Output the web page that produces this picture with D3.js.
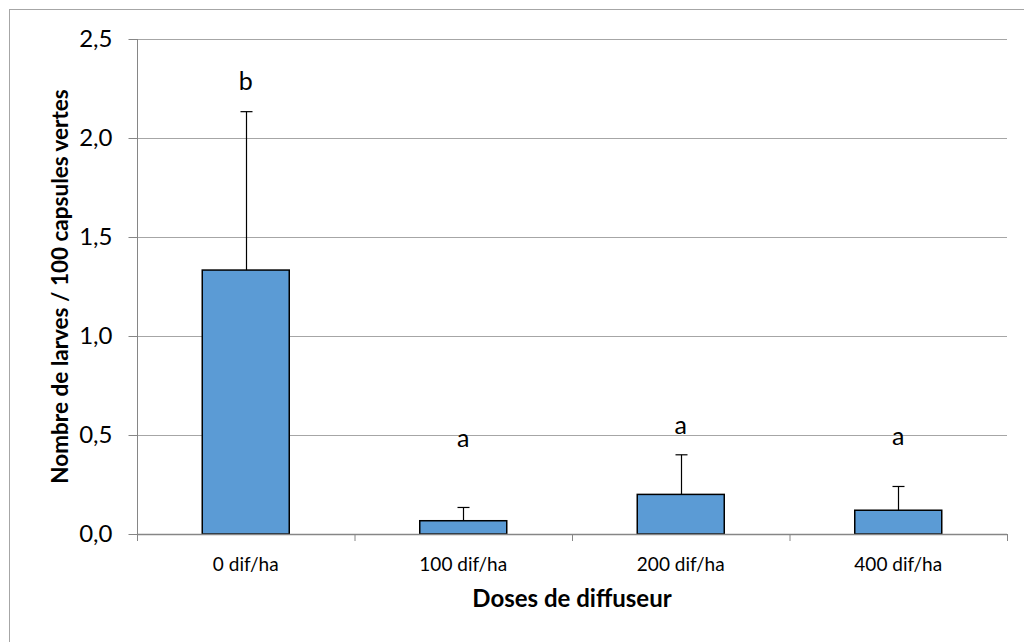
<!DOCTYPE html>
<html><head><meta charset="utf-8">
<script src="https://cdn.jsdelivr.net/npm/d3@7"></script>
<style>body{margin:0;background:#fff}svg{display:block}text{font-family:Lato,"Open Sans",sans-serif}</style>
</head><body><svg id="c" width="1024" height="642"></svg>
<script>
const categories = ["0 dif/ha", "100 dif/ha", "200 dif/ha", "400 dif/ha"];
const means = [1.333, 0.067, 0.2, 0.12];
const errors = [0.8, 0.067, 0.2, 0.12];
const letters = ["b", "a", "a", "a"];
const letterPos = [2.24, 0.44, 0.505, 0.45];
const yTicks = [0, 0.5, 1.0, 1.5, 2.0, 2.5];

const svg = d3.select("#c");
const L = 137, R = 1007, T = 39, B = 534;
svg.append("rect").attr("x", 9.5).attr("y", 9.5).attr("width", 1040).attr("height", 660)
  .attr("fill", "#fff").attr("stroke", "#A6A6A6").attr("stroke-width", 1);

const x = d3.scaleBand().domain(categories).range([L, R]).paddingInner(0.6).paddingOuter(0.3);
const xb = d3.scaleBand().domain(categories).range([L, R]);
const y = d3.scaleLinear().domain([0, 2.5]).range([B, T]);

// gridlines
svg.append("g").selectAll("line").data(yTicks.filter(d => d > 0)).join("line")
  .attr("x1", L).attr("x2", R).attr("y1", d => Math.round(y(d)) + 0.5).attr("y2", d => Math.round(y(d)) + 0.5)
  .attr("stroke", "#A6A6A6").attr("stroke-width", 1);

// y axis
const fmt = d => d3.format(".1f")(d).replace(".", ",");
const ya = svg.append("g").attr("transform", `translate(${L + 0.5},0)`)
  .call(d3.axisLeft(y).tickValues(yTicks).tickFormat(fmt).tickSize(9).tickPadding(16));
ya.select(".domain").attr("stroke", "#868686").attr("d", `M0,${T}V${B}`);
ya.selectAll(".tick line").attr("stroke", "#868686");
ya.selectAll(".tick text").attr("font-size", 24).attr("fill", "#000").attr("font-family", "Lato");

// bars
svg.append("g").selectAll("rect").data(means).join("rect")
  .attr("x", (d, i) => x(categories[i])).attr("width", x.bandwidth())
  .attr("y", d => y(d)).attr("height", d => B - y(d))
  .attr("fill", "#5B9BD5").attr("stroke", "#000").attr("stroke-width", 1.5);

// x axis
const xa = svg.append("g").attr("transform", `translate(0,${B + 0.5})`)
  .call(d3.axisBottom(xb).tickSize(0).tickPadding(20));
xa.select(".domain").attr("stroke", "#868686").attr("stroke-width", 1.5).attr("d", `M${L},0H${R}`);
xa.selectAll(".tick text").attr("font-size", 19).attr("fill", "#000").attr("dy", null).attr("y", 36);
svg.append("g").selectAll("line").data(d3.range(categories.length + 1)).join("line")
  .attr("x1", i => L + i * xb.bandwidth() + 0.5).attr("x2", i => L + i * xb.bandwidth() + 0.5)
  .attr("y1", B).attr("y2", B + 7).attr("stroke", "#868686");

// error bars
const eg = svg.append("g").attr("stroke", "#000").attr("stroke-width", 1.2);
means.forEach((m, i) => {
  const cx = Math.round(x(categories[i]) + x.bandwidth() / 2) + 0.5;
  eg.append("line").attr("x1", cx).attr("x2", cx).attr("y1", y(m)).attr("y2", y(m + errors[i]));
  eg.append("line").attr("x1", cx - 6).attr("x2", cx + 6).attr("y1", y(m + errors[i])).attr("y2", y(m + errors[i]));
});

// letters
svg.append("g").selectAll("text").data(letters).join("text")
  .attr("x", (d, i) => x(categories[i]) + x.bandwidth() / 2).attr("y", (d, i) => y(letterPos[i]))
  .attr("text-anchor", "middle").attr("font-size", 25).text(d => d);

// axis titles
svg.append("text").attr("x", (L + R) / 2).attr("y", 607).attr("text-anchor", "middle")
  .attr("font-size", 24).attr("font-weight", "bold").text("Doses de diffuseur");
svg.append("text").attr("transform", `translate(68,${(T + B) / 2}) rotate(-90)`).attr("text-anchor", "middle")
  .attr("font-size", 22.5).attr("font-weight", "bold").text("Nombre de larves / 100 capsules vertes");
</script></body></html>
